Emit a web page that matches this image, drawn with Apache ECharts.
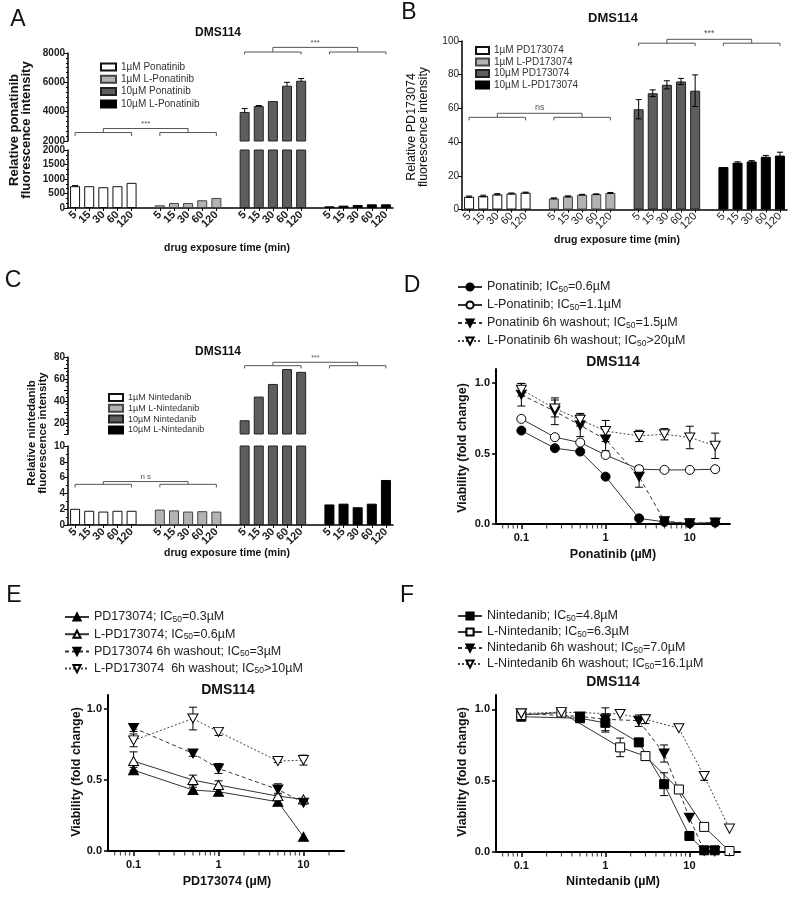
<!DOCTYPE html>
<html><head><meta charset="utf-8">
<script src="https://cdn.jsdelivr.net/npm/echarts@6/dist/echarts.min.js"></script>
<style>html,body{margin:0;padding:0;background:#fff}#c{width:800px;height:898px}</style>
</head><body><div id="c"></div>
<script>
// ================= DATA =================
const timeLabels = ['5', '15', '30', '60', '120'];

// Panel A (ponatinib fluorescence)
const aNames = ['1\u00B5M Ponatinib', '1\u00B5M L-Ponatinib', '10\u00B5M Ponatinib', '10\u00B5M L-Ponatinib'];
const aPon1 = [752, 752, 717, 752, 867];
const aPon1Err = [20, 0, 0, 0, 0];
const aLPon1 = [94, 173, 173, 267, 347];
const aPon10 = [3980, 4380, 4720, 5770, 6110];
const aPon10Err = [230, 40, 0, 230, 150];
const aLPon10 = [58, 81, 104, 127, 127];

// Panel B (PD173074 fluorescence)
const bNames = ['1\u00B5M PD173074', '1\u00B5M L-PD173074', '10\u00B5M PD173074', '10\u00B5M L-PD173074'];
const bPD1 = [7.6, 8.0, 9.0, 9.5, 10.0];
const bPD1Err = [0.4, 0.5, 0.4, 0.3, 0.3];
const bLPD1 = [6.6, 7.8, 8.8, 9.1, 9.8];
const bLPD1Err = [0.3, 0.3, 0.2, 0.2, 0.3];
const bPD10 = [59.5, 69, 74, 76, 70.5];
const bPD10Err = [5.7, 2, 2.4, 1.8, 9.4];
const bLPD10 = [25.2, 27.8, 28.5, 31.3, 32];
const bLPD10Err = [0, 0.5, 0.5, 0.8, 2];

// Panel C (nintedanib fluorescence)
const cNames = ['1\u00B5M Nintedanib', '1\u00B5M L-Nintedanib', '10\u00B5M Nintedanib', '10\u00B5M L-Nintedanib'];
const cNin1 = [2.05, 1.8, 1.7, 1.8, 1.8];
const cLNin1 = [1.95, 1.85, 1.7, 1.75, 1.7];
const cNin10 = [22.5, 44, 55.5, 69, 66.5];
const cLNin10 = [2.6, 2.7, 2.25, 2.7, 5.7];

// Significance brackets: [fromIndex, toIndex, topValue, legValue]
const aBrackets = [[0, 4, 2577, 2343], [6, 10, 2577, 2343], [2, 8, 2851, 2577], [12, 16, 8067, 7900], [18, 22, 8067, 7900], [14, 20, 8383, 8067]];
const aBracketText = ['', '', '***', '', '', '***'];
const bBrackets = [[0, 4, 54.7, 52.9], [6, 10, 54.7, 52.9], [2, 8, 57.1, 54.7], [12, 16, 98.7, 97], [18, 22, 98.7, 97], [14, 20, 101, 98.7]];
const bBracketText = ['', '', 'ns', '', '', '***'];
const cBracketsLow = [[0, 4, 5.15, 4.75], [6, 10, 5.15, 4.75], [2, 8, 5.5, 5.15]];
const cBracketLowText = ['', '', 'n s'];
const cBracketsUp = [[12, 16, 72.1, 69.6], [18, 22, 72.1, 69.6], [14, 20, 75.2, 72.1]];
const cBracketUpText = ['', '', '***'];

// Panel D (ponatinib viability)
const dNames = ['Ponatinib; IC50=0.6\u00B5M', 'L-Ponatinib; IC50=1.1\u00B5M', 'Ponatinib 6h washout; IC50=1.5\u00B5M', 'L-Ponatinib 6h washout; IC50>20\u00B5M'];
const dConc = [0.1, 0.25, 0.5, 1, 2.5, 5, 10, 20];
const dPon = [0.663, 0.538, 0.514, 0.336, 0.04, 0.015, 0.005, 0.01];
const dLPon = [0.746, 0.616, 0.578, 0.49, 0.389, 0.384, 0.384, 0.389];
const dPonWash = [0.917, 0.80, 0.70, 0.60, 0.336, 0.02, 0.005, 0.01];
const dPonWashErr = [0.08, 0.095, 0.08, 0.08, 0.075, 0.01, 0, 0];
const dLPonWash = [0.953, 0.82, 0.74, 0.66, 0.625, 0.637, 0.614, 0.555];
const dLPonWashErr = [0.045, 0.06, 0.045, 0.075, 0.04, 0.04, 0.08, 0.09];

// Panel E (PD173074 viability)
const eNames = ['PD173074; IC50=0.3\u00B5M', 'L-PD173074; IC50=0.6\u00B5M', 'PD173074 6h washout; IC50=3\u00B5M', 'L-PD173074  6h washout; IC50>10\u00B5M'];
const eConc = [0.1, 0.5, 1, 5, 10];
const ePD = [0.57, 0.43, 0.418, 0.347, 0.10];
const ePDErr = [0.02, 0.02, 0.02, 0.02, 0];
const eLPD = [0.634, 0.50, 0.465, 0.387, 0.364];
const eLPDErr = [0.065, 0.035, 0.03, 0.02, 0];
const ePDWash = [0.868, 0.688, 0.582, 0.434, 0.34];
const ePDWashErr = [0.025, 0.02, 0.035, 0.04, 0.01];
const eLPDWash = [0.78, 0.934, 0.84, 0.634, 0.641];
const eLPDWashErr = [0.045, 0.08, 0.025, 0.01, 0.035];

// Panel F (nintedanib viability)
const fNames = ['Nintedanib; IC50=4.8\u00B5M', 'L-Nintedanib; IC50=6.3\u00B5M', 'Nintedanib 6h washout; IC50=7.0\u00B5M', 'L-Nintedanib 6h washout; IC50=16.1\u00B5M'];
const fConc = [0.1, 0.5, 1, 2.5, 5, 10, 15, 20];
const fNin = [0.948, 0.937, 0.905, 0.768, 0.475, 0.112, 0.012, 0.012];
const fNinErr = [0.02, 0, 0.065, 0, 0.08, 0, 0, 0];
const fNinWash = [0.97, 0.95, 0.93, 0.92, 0.69, 0.241, 0.007, 0.007];
const fNinWashErr = [0.02, 0, 0.08, 0.04, 0.06, 0, 0, 0];
const fLConc = [0.1, 0.3, 1.5, 3, 7.5, 15, 30];
const fLNin = [0.96, 0.977, 0.733, 0.672, 0.438, 0.176, 0.007];
const fLNinErr = [0, 0.01, 0.065, 0, 0, 0, 0];
const fLNinWash = [0.97, 0.98, 0.967, 0.93, 0.867, 0.532, 0.164];
const fLNinWashErr = [0, 0, 0, 0.03, 0, 0.03, 0];

// Log-axis minor tick values
const logMinorDE = [0.06, 0.07, 0.08, 0.09, 0.2, 0.3, 0.4, 0.5, 0.6, 0.7, 0.8, 0.9, 2, 3, 4, 5, 6, 7, 8, 9, 20];
const logMinorF = [0.06, 0.07, 0.08, 0.09, 0.2, 0.3, 0.4, 0.5, 0.6, 0.7, 0.8, 0.9, 2, 3, 4, 5, 6, 7, 8, 9, 20, 30];

// ================= HELPERS =================
const FF = '"Liberation Sans", Arial, Helvetica, sans-serif';
const cats = [];
for (let g = 0; g < 4; g++) { cats.push(...timeLabels); if (g < 3) cats.push(''); }
const N = cats.length;
function groupData(vals, g) { const a = new Array(N).fill('-'); vals.forEach((v, i) => { a[g * 6 + i] = v; }); return a; }
function barErr(vals, errs, g) { const r = []; vals.forEach((v, i) => { if (errs[i] > 0) r.push([g * 6 + i, v - errs[i], v + errs[i]]); }); return r; }
function ptErr(xs, ys, es) { const r = []; xs.forEach((x, i) => { if (es[i] > 0) r.push([x, ys[i] - es[i], ys[i] + es[i]]); }); return r; }
function zip(xs, ys) { return xs.map((x, i) => [x, ys[i]]); }

const barStyles = [
  { color: '#ffffff', borderColor: '#111', borderWidth: 1 },
  { color: '#b3b3b3', borderColor: '#444', borderWidth: 1 },
  { color: '#5e5e5e', borderColor: '#222', borderWidth: 1 },
  { color: '#000000', borderColor: '#000', borderWidth: 1 }
];

function errRender(capW, color) {
  return function (params, api) {
    const x = api.value(0), lo = api.value(1), hi = api.value(2);
    const p1 = api.coord([x, lo]), p2 = api.coord([x, hi]);
    const st = { stroke: color || '#000', lineWidth: 1 };
    return { type: 'group', children: [
      { type: 'line', shape: { x1: p1[0], y1: p1[1], x2: p2[0], y2: p2[1] }, style: st },
      { type: 'line', shape: { x1: p1[0] - capW / 2, y1: p1[1], x2: p1[0] + capW / 2, y2: p1[1] }, style: st },
      { type: 'line', shape: { x1: p2[0] - capW / 2, y1: p2[1], x2: p2[0] + capW / 2, y2: p2[1] }, style: st }
    ] };
  };
}
function bracketRender(labels, fs) {
  return function (params, api) {
    const x1 = api.value(0), x2 = api.value(1), yt = api.value(2), yb = api.value(3);
    const a = api.coord([x1, yt]), b = api.coord([x2, yt]), c = api.coord([x1, yb]);
    const ch = [{ type: 'polyline', shape: { points: [[a[0], c[1]], [a[0], a[1]], [b[0], a[1]], [b[0], c[1]]] }, style: { stroke: '#555', fill: 'none', lineWidth: 1 } }];
    const lab = labels[params.dataIndex];
    if (lab) ch.push({ type: 'text', x: (a[0] + b[0]) / 2, y: a[1] - 1, style: { text: lab, fill: '#555', font: fs + 'px ' + FF, align: 'center', verticalAlign: 'bottom', textAlign: 'center', textVerticalAlign: 'bottom' } });
    return { type: 'group', children: ch };
  };
}

function barX(gi, visible) {
  return { gridIndex: gi, type: 'category', data: cats, show: visible,
    axisLine: { lineStyle: { color: '#000', width: 1.5 } },
    axisTick: { show: true, alignWithLabel: true, length: 3, interval: (i, v) => v !== '', lineStyle: { color: '#000' } },
    axisLabel: { interval: 0, rotate: 45, fontSize: 11, fontWeight: 'bold', color: '#222', margin: 5, fontFamily: FF } };
}
function barY(gi, min, max, interval, minorSplit, fmt, bold) {
  const o = { gridIndex: gi, type: 'value', min, max, interval,
    axisLine: { show: true, lineStyle: { color: '#000', width: 1.5 } },
    axisTick: { show: true, length: 4, lineStyle: { color: '#000' } },
    splitLine: { show: false },
    axisLabel: { fontSize: 10, fontWeight: bold ? 'bold' : 'normal', color: '#222', margin: 3, fontFamily: FF, formatter: fmt || (v => String(v)) } };
  if (minorSplit) o.minorTick = { show: true, splitNumber: minorSplit, length: 2, lineStyle: { color: '#000' } };
  return o;
}
function logX(gi, max) {
  return { gridIndex: gi, type: 'log', logBase: 10, min: 0.05, max,
    axisLine: { onZero: false, lineStyle: { color: '#000', width: 2 } },
    axisTick: { show: true, length: 5, lineStyle: { color: '#000', width: 1.5 } }, splitLine: { show: false },
    axisLabel: { showMinLabel: false, showMaxLabel: false, fontSize: 11, fontWeight: 'bold', color: '#111', margin: 8, fontFamily: FF,
      formatter: v => String(+(+v).toPrecision(3)) } };
}
function vY(gi) {
  return { gridIndex: gi, type: 'value', min: 0, max: 1.1, interval: 0.5,
    axisLine: { show: true, lineStyle: { color: '#000', width: 2 } },
    axisTick: { show: true, length: 4, customValues: [0, 0.5, 1], lineStyle: { color: '#000', width: 1.5 } },
    splitLine: { show: false },
    axisLabel: { customValues: [0, 0.5, 1], fontSize: 11, fontWeight: 'bold', color: '#111', margin: 6, fontFamily: FF,
      formatter: v => (Math.abs(v - 1.1) < 1e-6 ? '' : (+v).toFixed(1)) } };
}

const grids = [
  { left: 68, top: 53, width: 325, height: 88 },    // 0 A upper
  { left: 68, top: 150, width: 325, height: 58 },   // 1 A lower
  { left: 462, top: 41, width: 325, height: 168.5 },// 2 B
  { left: 68, top: 357, width: 325, height: 77 },   // 3 C upper
  { left: 68, top: 446, width: 325, height: 79 },   // 4 C lower
  { left: 496, top: 369, width: 234, height: 155 }, // 5 D
  { left: 108, top: 695, width: 236, height: 156 }, // 6 E
  { left: 496, top: 695, width: 244, height: 157 }  // 7 F
].map(g => Object.assign({ outerBoundsMode: 'none', containLabel: false }, g));

const xAxes = [barX(0, false), barX(1, true), barX(2, true), barX(3, false), barX(4, true), logX(5, 30), logX(6, 30), logX(7, 40)];
xAxes[2].axisLabel.fontWeight = 'normal';
const yAxes = [
  barY(0, 2000, 8000, 2000, 6, null, true),
  barY(1, 0, 2000, 500, 3, null, true),
  barY(2, 0, 100, 20, 0, null, false),
  barY(3, 10, 80, 10, 3, v => (v % 20 === 0 ? String(v) : ''), true),
  barY(4, 0, 10, 2, 2, null, true),
  vY(5), vY(6), vY(7)
];

const series = [];
function addBar(name, vals, g, xi, yi, k) {
  series.push({ type: 'bar', name, xAxisIndex: xi, yAxisIndex: yi, data: groupData(vals, g), barWidth: 10, barGap: '-100%', itemStyle: barStyles[k], silent: true, clip: true, z: 2 });
}
function addErr(data, xi, yi, capW) {
  series.push({ type: 'custom', xAxisIndex: xi, yAxisIndex: yi, data, encode: { x: 0, y: [1, 2] }, renderItem: errRender(capW), clip: false, silent: true, z: 1 });
}
function addBracket(data, labels, xi, yi, fs) {
  series.push({ type: 'custom', xAxisIndex: xi, yAxisIndex: yi, data, encode: { x: [0, 1], y: [2, 3] }, renderItem: bracketRender(labels, fs), clip: false, silent: true, z: 4 });
}
// minor ticks of the log axes, hung below the axis line
function addLogMinor(minors, gi) {
  series.push({ type: 'scatter', xAxisIndex: gi, yAxisIndex: gi, data: minors.map(v => [v, 0]),
    symbol: 'rect', symbolSize: [1, 3.5], symbolOffset: [0, 2.8], itemStyle: { color: '#000' },
    clip: false, silent: true, z: 5, emphasis: { disabled: true } });
}

// Panel A
addBar(aNames[2], aPon10, 2, 0, 0, 2);
addErr(barErr(aPon10, aPon10Err, 2), 0, 0, 6);
addBracket(aBrackets, aBracketText, 0, 0, 8);
addBar(aNames[0], aPon1, 0, 1, 1, 0);
addBar(aNames[1], aLPon1, 1, 1, 1, 1);
addBar(aNames[2], aPon10, 2, 1, 1, 2);
addBar(aNames[3], aLPon10, 3, 1, 1, 3);
addErr(barErr(aPon1, aPon1Err, 0), 1, 1, 6);
// Panel B
addBar(bNames[0], bPD1, 0, 2, 2, 0);
addBar(bNames[1], bLPD1, 1, 2, 2, 1);
addBar(bNames[2], bPD10, 2, 2, 2, 2);
addBar(bNames[3], bLPD10, 3, 2, 2, 3);
addErr(barErr(bPD1, bPD1Err, 0).concat(barErr(bLPD1, bLPD1Err, 1), barErr(bPD10, bPD10Err, 2), barErr(bLPD10, bLPD10Err, 3)), 2, 2, 6);
series[series.length - 1].z = 3;
addBracket(bBrackets, bBracketText, 2, 2, 9);
// Panel C
addBar(cNames[2], cNin10, 2, 3, 3, 2);
addBracket(cBracketsUp, cBracketUpText, 3, 3, 7);
addBar(cNames[0], cNin1, 0, 4, 4, 0);
addBar(cNames[1], cLNin1, 1, 4, 4, 1);
addBar(cNames[2], cNin10, 2, 4, 4, 2);
addBar(cNames[3], cLNin10, 3, 4, 4, 3);
addBracket(cBracketsLow, cBracketLowText, 4, 4, 8);

// Line panels
const downTri = 'path://M0,0L10,0L5,9Z';
const solidLine = { color: '#333', width: 1 };
const dashLine = { color: '#333', width: 1, type: [4, 3] };
const dotLine = { color: '#444', width: 1, type: [2, 2] };
const filled = { color: '#000', borderColor: '#000', borderWidth: 1 };
const open = { color: '#fff', borderColor: '#000', borderWidth: 1 };
function addLine(name, xs, ys, gi, symbol, size, item, line) {
  series.push({ type: 'line', name, xAxisIndex: gi, yAxisIndex: gi, data: zip(xs, ys), symbol, symbolSize: size, showSymbol: true,
    itemStyle: item, lineStyle: line, silent: true, z: 3, emphasis: { disabled: true } });
}
// D
addErr(ptErr(dConc, dPonWash, dPonWashErr).concat(ptErr(dConc, dLPonWash, dLPonWashErr)), 5, 5, 8);
addLine(dNames[0], dConc, dPon, 5, 'circle', 9, filled, solidLine);
addLine(dNames[1], dConc, dLPon, 5, 'circle', 9, open, solidLine);
addLine(dNames[2], dConc, dPonWash, 5, downTri, [10, 9], filled, dashLine);
addLine(dNames[3], dConc, dLPonWash, 5, downTri, [10, 9], open, dotLine);
addLogMinor(logMinorDE, 5);
// E
addErr(ptErr(eConc, ePD, ePDErr).concat(ptErr(eConc, eLPD, eLPDErr), ptErr(eConc, ePDWash, ePDWashErr), ptErr(eConc, eLPDWash, eLPDWashErr)), 6, 6, 8);
addLine(eNames[0], eConc, ePD, 6, 'triangle', [10, 9], filled, solidLine);
addLine(eNames[1], eConc, eLPD, 6, 'triangle', [10, 9], open, solidLine);
addLine(eNames[2], eConc, ePDWash, 6, downTri, [10, 9], filled, dashLine);
addLine(eNames[3], eConc, eLPDWash, 6, downTri, [10, 9], open, dotLine);
addLogMinor(logMinorDE, 6);
// F
addErr(ptErr(fConc, fNin, fNinErr).concat(ptErr(fLConc, fLNin, fLNinErr), ptErr(fConc, fNinWash, fNinWashErr), ptErr(fLConc, fLNinWash, fLNinWashErr)), 7, 7, 8);
addLine(fNames[0], fConc, fNin, 7, 'rect', 9, filled, solidLine);
addLine(fNames[1], fLConc, fLNin, 7, 'rect', 9, open, solidLine);
addLine(fNames[2], fConc, fNinWash, 7, downTri, [10, 9], filled, dashLine);
addLine(fNames[3], fLConc, fLNinWash, 7, downTri, [10, 9], open, dotLine);
addLogMinor(logMinorF, 7);

// Legends
function barLegend(names, left, top, iw, fs, lh, gap) {
  return { data: names, orient: 'vertical', left, top, padding: 0, itemWidth: iw, itemHeight: 7, itemGap: gap, icon: 'rect', selectedMode: false,
    textStyle: { fontSize: fs, lineHeight: lh, color: '#333', fontFamily: FF } };
}
function lineLegend(names, left, top, gap) {
  return { data: names, orient: 'vertical', left, top, padding: 0, itemWidth: 24, itemHeight: 9, itemGap: gap, selectedMode: false,
    formatter: n => n.replace('IC50', 'IC{s|50}'),
    textStyle: { fontSize: 12.5, lineHeight: 14, color: '#222', fontFamily: FF,
      rich: { s: { fontSize: 8.5, lineHeight: 14, verticalAlign: 'bottom', padding: [5, 0, 0, 0], color: '#222', fontFamily: FF } } } };
}
const legends = [
  barLegend(aNames, 100, 61, 15, 10, 12, 0.3),
  barLegend(bNames, 475, 45, 13, 10, 11, 0.5),
  barLegend(cNames, 108, 392.5, 14, 9, 10, 0.8),
  lineLegend(dNames, 457, 280, 4),
  lineLegend(eNames, 64, 610, 3.2),
  lineLegend(fNames, 457, 609, 2)
];

// Text graphics
function txt(text, x, y, font, opts) {
  opts = opts || {};
  return { type: 'text', x, y, rotation: opts.rot || 0, silent: true,
    style: { text, font, fill: opts.fill || '#111', align: 'center', verticalAlign: 'middle', textAlign: 'center', textVerticalAlign: 'middle', lineHeight: opts.lh } };
}
const B = 'bold ';
const graphics = [
  txt('A', 18, 20, '23px ' + FF), txt('B', 409, 13, '23px ' + FF), txt('C', 13, 281, '23px ' + FF),
  txt('D', 412, 286, '23px ' + FF), txt('E', 14, 596, '23px ' + FF), txt('F', 407, 596, '23px ' + FF),
  txt('DMS114', 218, 33, B + '12px ' + FF), txt('DMS114', 613, 18, B + '13px ' + FF), txt('DMS114', 218, 352, B + '12px ' + FF),
  txt('DMS114', 613, 362, B + '14px ' + FF), txt('DMS114', 228, 690, B + '14px ' + FF), txt('DMS114', 613, 682, B + '14px ' + FF),
  txt('Relative ponatinib\nfluorescence intensity', 20, 130, B + '13px ' + FF, { rot: Math.PI / 2, lh: 12 }),
  txt('Relative PD173074\nfluorescence intensity', 418, 127, '12.5px ' + FF, { rot: Math.PI / 2, lh: 12 }),
  txt('Relative nintedanib\nfluorescence intensity', 37.5, 433, B + '11.5px ' + FF, { rot: Math.PI / 2, lh: 11 }),
  txt('drug exposure time (min)', 227, 248, B + '10.5px ' + FF),
  txt('drug exposure time (min)', 617, 240, B + '10.5px ' + FF),
  txt('drug exposure time (min)', 227, 553, B + '10.5px ' + FF),
  txt('Ponatinib (\u00B5M)', 613, 555, B + '12.5px ' + FF),
  txt('PD173074 (\u00B5M)', 227, 882, B + '12.5px ' + FF),
  txt('Nintedanib (\u00B5M)', 613, 882, B + '12.5px ' + FF),
  txt('Viability (fold change)', 463, 448, B + '12.5px ' + FF, { rot: Math.PI / 2 }),
  txt('Viability (fold change)', 77, 772, B + '12.5px ' + FF, { rot: Math.PI / 2 }),
  txt('Viability (fold change)', 463, 772, B + '12.5px ' + FF, { rot: Math.PI / 2 })
];

const chart = echarts.init(document.getElementById('c'), null, { renderer: 'canvas', width: 800, height: 898 });
chart.setOption({
  animation: false,
  backgroundColor: '#fff',
  textStyle: { fontFamily: FF },
  grid: grids, xAxis: xAxes, yAxis: yAxes,
  legend: legends, series, graphic: graphics
});
</script></body></html>
